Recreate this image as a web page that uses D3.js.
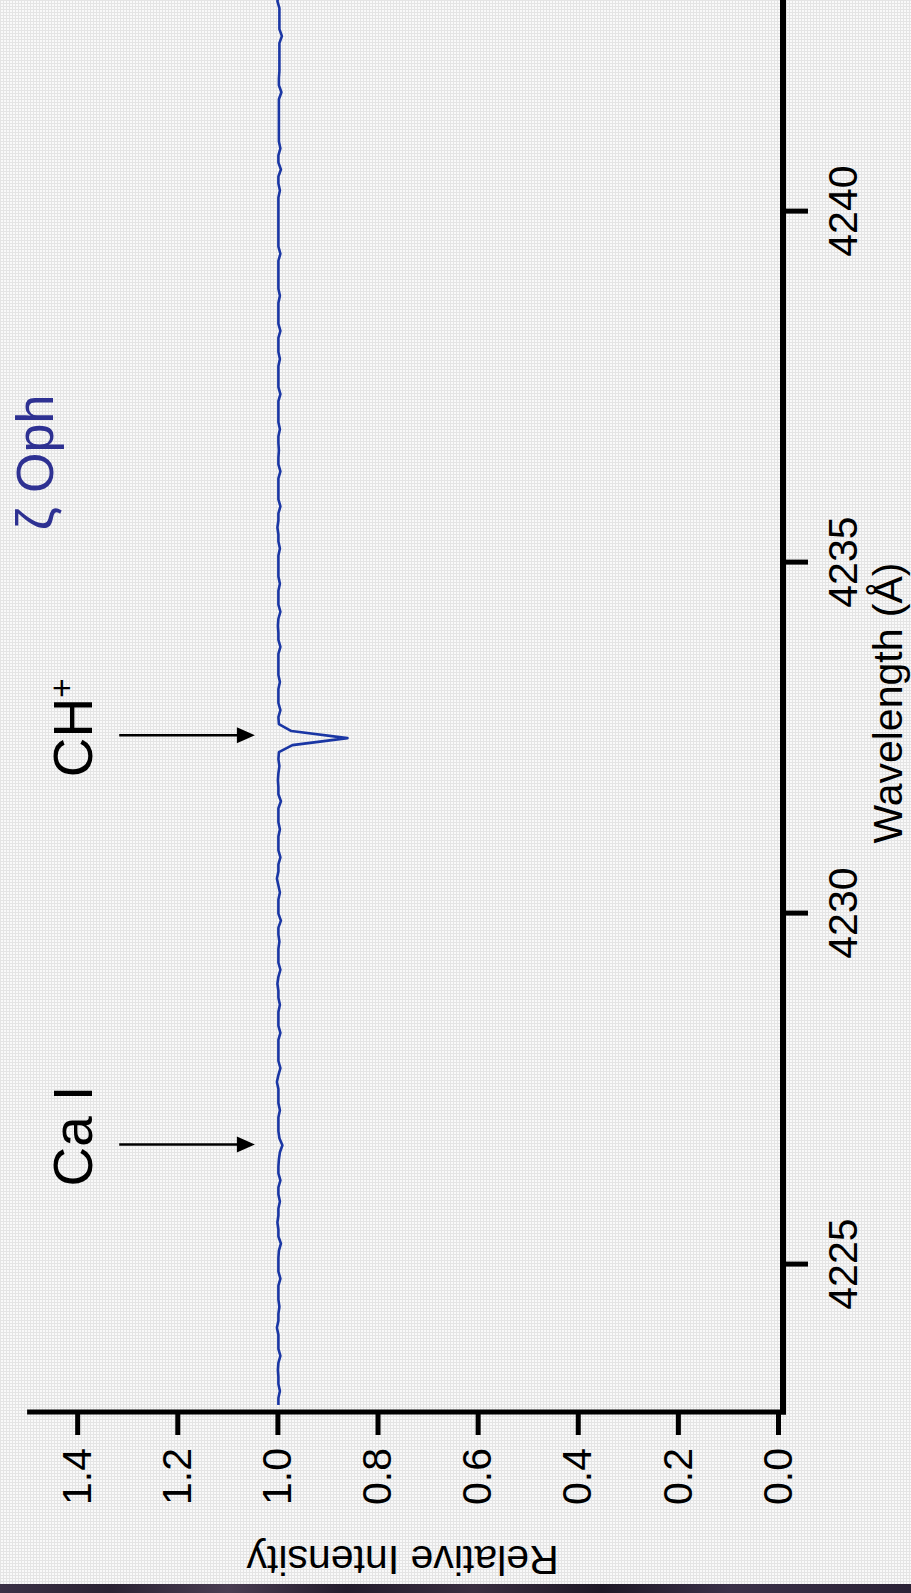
<!DOCTYPE html>
<html>
<head>
<meta charset="utf-8">
<script src="https://cdn.jsdelivr.net/npm/d3@7"></script>
<style>
  html, body { margin: 0; padding: 0; background: #ffffff; }
  svg { display: block; }
</style>
</head>
<body>
<svg id="chart" width="911" height="1593"></svg>
<script>
// ---- data -------------------------------------------------------------
const wavelengthTicks = [4225, 4230, 4235, 4240];
const intensityTicks = [0.0, 0.2, 0.4, 0.6, 0.8, 1.0, 1.2, 1.4];

// Spectrum sampled every 0.1 Å starting at 4223.0 Å (one row per Ångström)
const spectrumStart = 4223.0;
const spectrumStep = 0.1;
const intensity = [
  0.998, 0.998, 0.995, 0.998, 0.998, 0.999, 0.998, 0.994, 0.998, 0.998, // 4223
  0.998, 1.001, 0.998, 0.998, 0.996, 0.998, 0.998, 0.998, 0.994, 0.998, // 4224
  0.998, 0.998, 0.997, 0.993, 0.998, 0.998, 1.000, 0.998, 0.998, 0.995, // 4225
  0.998, 0.998, 0.994, 0.998, 0.998, 0.997, 0.995, 0.990, 0.996, 0.998, // 4226
  0.998, 0.998, 0.995, 0.998, 0.998, 0.998, 1.001, 0.998, 0.994, 0.998, // 4227
  0.998, 0.998, 0.998, 0.994, 0.998, 0.998, 0.998, 0.995, 0.998, 0.998, // 4228
  1.000, 0.998, 0.994, 0.998, 0.998, 0.998, 0.996, 0.998, 0.998, 0.993, // 4229
  0.998, 0.998, 0.998, 0.995, 0.998, 1.001, 0.998, 0.998, 0.994, 0.998, // 4230
  0.998, 0.998, 0.995, 0.998, 0.998, 0.998, 0.993, 0.998, 0.998, 0.999, // 4231
  0.998, 0.996, 0.998, 0.997, 0.970, 0.860, 0.972, 0.997, 0.998, 0.994, // 4232
  0.998, 0.998, 0.998, 0.995, 0.998, 0.998, 0.998, 0.998, 0.994, 0.998, // 4233
  0.998, 0.999, 0.998, 0.994, 0.998, 0.998, 0.998, 0.995, 0.998, 0.998, // 4234
  0.998, 0.998, 0.995, 0.998, 0.998, 1.000, 0.998, 0.998, 0.994, 0.998, // 4235
  0.998, 0.998, 0.998, 0.994, 0.998, 0.998, 0.997, 0.998, 0.998, 0.995, // 4236
  0.998, 0.998, 0.998, 0.998, 0.994, 0.998, 0.998, 0.998, 0.998, 0.995, // 4237
  0.998, 0.998, 0.998, 0.994, 0.998, 0.998, 0.998, 0.998, 0.995, 0.998, // 4238
  0.998, 0.998, 0.998, 0.998, 0.994, 0.998, 0.998, 0.998, 0.998, 0.998, // 4239
  0.998, 0.998, 0.998, 0.995, 0.998, 0.998, 0.993, 0.998, 0.998, 0.994, // 4240
  0.997, 0.997, 0.997, 0.997, 0.997, 0.997, 0.997, 0.992, 0.997, 0.997, // 4241
  0.996, 0.996, 0.996, 0.996, 0.996, 0.991, 0.996, 0.996, 0.996, 0.996, // 4242
  1.000, 0.995                                                          // 4243
];

// Identified absorption lines
const lineNames = ["Ca I", "CH"];
const lineWavelengths = [4226.71, 4232.54];
const starName = "ζ Oph";

// ---- drawing ----------------------------------------------------------
const W = 911, H = 1593;
const svg = d3.select("#chart");
const FONT = "'Liberation Sans', Arial, Helvetica, sans-serif";

// textured light background
const defs = svg.append("defs");
const pat = defs.append("pattern")
  .attr("id", "weave").attr("width", 3).attr("height", 3)
  .attr("patternUnits", "userSpaceOnUse");
pat.append("rect").attr("width", 3).attr("height", 3).attr("fill", "#f9f9f9");
pat.append("rect").attr("width", 3).attr("height", 1).attr("fill", "#e4e4e4");
pat.append("rect").attr("width", 1).attr("height", 3).attr("fill", "#e4e4e4");

svg.append("rect").attr("width", W).attr("height", H).attr("fill", "url(#weave)");

// dark strip along the lower edge
const strip = defs.append("linearGradient").attr("id", "strip");
[["0%", "#3b3146"], ["12%", "#2a2233"], ["25%", "#4a3d52"], ["38%", "#231c2c"],
 ["52%", "#3a2e40"], ["66%", "#1e1826"], ["80%", "#3a3048"], ["100%", "#2b2236"]]
  .forEach(([o, c]) => strip.append("stop").attr("offset", o).attr("stop-color", c));
svg.append("rect").attr("x", 0).attr("y", 1584).attr("width", W).attr("height", H - 1584)
  .attr("fill", "url(#strip)");

// Plot frame drawn upright, then turned a quarter turn counter-clockwise:
// u runs along wavelength, v runs down the intensity direction.
const frame = svg.append("g").attr("transform", "translate(0,1412) rotate(-90)");

const x = d3.scaleLinear().domain([4222.9, 4243.1]).range([0, 1418]);
const y = d3.scaleLinear().domain([0, 1.5]).range([778, 27.1]);

// wavelength axis
const xAxisPos = 783;
const xAxis = frame.append("g").attr("transform", `translate(0,${xAxisPos})`)
  .call(d3.axisBottom(x).tickValues(wavelengthTicks).tickSize(25).tickPadding(20)
    .tickFormat(d3.format("d")));
xAxis.select(".domain").remove();
xAxis.selectAll(".tick line").attr("stroke", "#000").attr("stroke-width", 5);
xAxis.selectAll(".tick text").attr("font-family", FONT).attr("font-size", 41).attr("fill", "#000");
frame.append("line").attr("x1", -2.5).attr("x2", 1425).attr("y1", xAxisPos).attr("y2", xAxisPos)
  .attr("stroke", "#000").attr("stroke-width", 6);

// intensity axis
const yAxis = frame.append("g")
  .call(d3.axisLeft(y).tickValues(intensityTicks).tickSize(23).tickPadding(13)
    .tickFormat(d3.format(".1f")));
yAxis.select(".domain").remove();
yAxis.selectAll(".tick line").attr("stroke", "#000").attr("stroke-width", 5);
yAxis.selectAll(".tick text").attr("font-family", FONT).attr("font-size", 41).attr("fill", "#000");
frame.append("line").attr("x1", 0).attr("x2", 0).attr("y1", y(1.5)).attr("y2", xAxisPos + 3)
  .attr("stroke", "#000").attr("stroke-width", 5);

// axis titles
frame.append("text")
  .attr("x", (x.range()[0] + x.range()[1]) / 2).attr("y", 902)
  .attr("text-anchor", "middle").attr("font-family", FONT).attr("font-size", 41)
  .text("Wavelength (Å)");
frame.append("text")
  .attr("transform", `translate(-134,${(y.range()[0] + y.range()[1]) / 2}) rotate(-90)`)
  .attr("text-anchor", "middle").attr("font-family", FONT).attr("font-size", 41)
  .text("Relative Intensity");

// spectrum
const spectrum = intensity.map((v, i) => ({ w: spectrumStart + i * spectrumStep, v }));
frame.append("path").datum(spectrum)
  .attr("fill", "none").attr("stroke", "#1a36a4").attr("stroke-width", 2.6)
  .attr("stroke-linejoin", "round")
  .attr("d", d3.line().x(d => x(d.w)).y(d => y(d.v)));

// line identifications with arrows
lineWavelengths.forEach((w, i) => {
  const u = x(w);
  frame.append("line").attr("x1", u).attr("x2", u).attr("y1", y(1.316)).attr("y2", y(1.08))
    .attr("stroke", "#000").attr("stroke-width", 2.5);
  frame.append("path")
    .attr("d", `M${u - 8},${y(1.081)} L${u + 8},${y(1.081)} L${u},${y(1.045)} Z`)
    .attr("fill", "#000");
  const t = frame.append("text").attr("x", u - 42).attr("y", 92)
    .attr("font-family", FONT).attr("font-size", 55).attr("fill", "#000")
    .text(lineNames[i]);
  if (lineNames[i] === "CH") {
    t.append("tspan").attr("dy", -19).attr("font-size", 33).text("+");
  }
});

// star name
frame.append("text").attr("x", x(4235.46)).attr("y", 53)
  .attr("font-family", FONT).attr("font-size", 52).attr("fill", "#2e3192")
  .text(starName);
</script>
</body>
</html>
